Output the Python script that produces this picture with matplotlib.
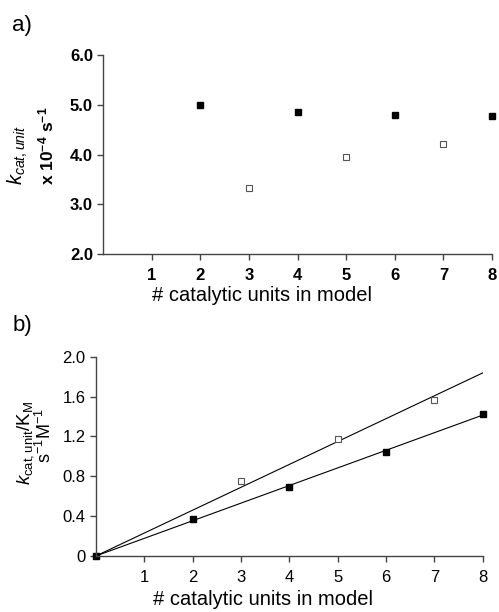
import numpy as np
import matplotlib.pyplot as plt

plt.rcParams['font.family'] = ['Liberation Sans', 'DejaVu Sans']
plt.rcParams['mathtext.fontset'] = 'custom'
plt.rcParams['mathtext.rm'] = 'Liberation Sans'
plt.rcParams['mathtext.it'] = 'Liberation Sans:italic'
plt.rcParams['mathtext.bf'] = 'Liberation Sans:bold'

# panel a: k_cat,unit (x 10^-4 s^-1)
xa_filled = [2, 4, 6, 8]
ya_filled = [5.00, 4.86, 4.80, 4.78]
xa_open = [3, 5, 7]
ya_open = [3.34, 3.96, 4.21]

# panel b: k_cat,unit / K_M (s^-1 M^-1)
xb_filled = [0, 2, 4, 6, 8]
yb_filled = [0.0, 0.371, 0.695, 1.046, 1.427]
xb_open = [0, 3, 5, 7]
yb_open = [0.0, 0.749, 1.177, 1.562]

fig = plt.figure(figsize=(4.99, 6.12), dpi=100)
axa = fig.add_axes([0.207, 0.5845, 0.779, 0.3255])
axb = fig.add_axes([0.192, 0.0915, 0.7756, 0.3257])

for ax in (axa, axb):
    for s in ('top', 'right'):
        ax.spines[s].set_visible(False)
    for s in ('left', 'bottom'):
        ax.spines[s].set_color('#444444')
        ax.spines[s].set_linewidth(1.0)
    ax.tick_params(direction='out', length=4, width=1, color='#444444', labelsize=12)
    ax.tick_params(axis='x', pad=6)
    ax.set_xlim(0, 8)
    ax.set_xticks(range(1, 9))
    ax.set_xlabel('# catalytic units in model', fontsize=14.5)
axa.xaxis.set_label_coords(0.408, -0.16)
axb.xaxis.set_label_coords(0.432, -0.17)

# a)
axa.plot(xa_filled, ya_filled, 's', color='black', markersize=5, clip_on=False)
axa.plot(xa_open, ya_open, 's', mfc='white', mec='#555555', mew=0.8, markersize=4.3)
axa.set_ylim(2, 6)
axa.set_yticks([2, 3, 4, 5, 6])
axa.set_yticklabels(['2.0', '3.0', '4.0', '5.0', '6.0'])
for lab in axa.get_xticklabels() + axa.get_yticklabels():
    lab.set_fontweight('bold')
fig.text(0.036, 0.698, r'$k_{cat,unit}$', rotation=90, fontsize=14.5, ha='center', va='bottom')
fig.text(0.094, 0.698, r'x 10$^{\mathregular{-4}}$ s$^{\mathregular{-1}}$', rotation=90,
         fontsize=12.5, fontweight='bold', ha='center', va='bottom')
fig.text(0.024, 0.959, 'a)', fontsize=16, ha='left', va='center')

# b)
xx = np.linspace(0, 8, 50)
xbo = np.array(xb_open)
ybo = np.array(yb_open)
xbf = np.array(xb_filled)
ybf = np.array(yb_filled)
k_open = np.sum(xbo * ybo) / np.sum(xbo ** 2)
k_filled = np.sum(xbf * ybf) / np.sum(xbf ** 2)
axb.plot(xx, k_open * xx, color='black', lw=0.8)
axb.plot(xx, k_filled * xx, color='black', lw=0.8)
axb.plot(xb_open, yb_open, 's', mfc='white', mec='#555555', mew=0.8, markersize=4.8, clip_on=False)
axb.plot(xb_filled, yb_filled, 's', color='black', markersize=5, clip_on=False)
axb.set_ylim(0, 2.0)
axb.set_yticks([0, 0.4, 0.8, 1.2, 1.6, 2.0])
axb.set_yticklabels(['0', '0.4', '0.8', '1.2', '1.6', '2.0'])
fig.text(0.052, 0.2075, r'$k_{\mathregular{cat,unit}}$/K$_{\mathregular{M}}$', rotation=90,
         fontsize=13.5, ha='center', va='bottom')
fig.text(0.09, 0.289, r's$^{\mathregular{-1}}$M$^{\mathregular{-1}}$', rotation=90,
         fontsize=13, ha='center', va='center')
fig.text(0.026, 0.468, 'b)', fontsize=16, ha='left', va='center')

fig.savefig('out.png', dpi=100)
